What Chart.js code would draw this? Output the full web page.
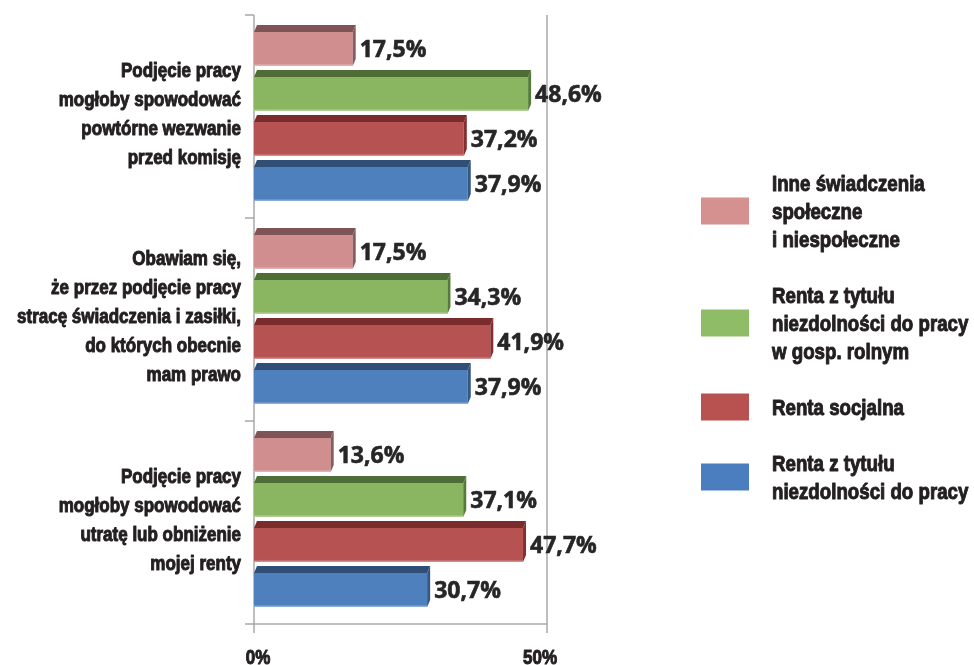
<!DOCTYPE html>
<html lang="pl">
<head>
    <meta charset="UTF-8">
    <title>Wykres</title>
    <style>
        html, body { margin: 0; padding: 0; background: #fff; }
        #chart-container { position: relative; width: 974px; height: 665px; }
    </style>
</head>
<body>
    <div id="chart-container">
        <canvas id="myChart"></canvas>
    </div>

<script src="https://cdn.jsdelivr.net/npm/chart.js"></script>
<script>
    // dane
    const categories = [
        ['Podjęcie pracy', 'mogłoby spowodować', 'powtórne wezwanie', 'przed komisję'],
        ['Obawiam się,', 'że przez podjęcie pracy', 'stracę świadczenia i zasiłki,', 'do których obecnie', 'mam prawo'],
        ['Podjęcie pracy', 'mogłoby spowodować', 'utratę lub obniżenie', 'mojej renty']
    ];
    const seriesNames = [
        ['Inne świadczenia', 'społeczne', 'i niespołeczne'],
        ['Renta z tytułu', 'niezdolności do pracy', 'w gosp. rolnym'],
        ['Renta socjalna'],
        ['Renta z tytułu', 'niezdolności do pracy']
    ];
    const inneValues = [17.5, 17.5, 13.6];
    const rolnyValues = [48.6, 34.3, 37.1];
    const socjalnaValues = [37.2, 41.9, 47.7];
    const niezdolnoscValues = [37.9, 37.9, 30.7];
    const xTicks = [0, 50];

    const frontColors = ['#D08E8E', '#8AB561', '#B65252', '#4E80BD'];
    const topColors = ['#7F5457', '#4F6D36', '#7A2C2D', '#2F4F76'];
    const sideColors = ['#8A5A5C', '#567A3B', '#832F30', '#34577F'];
    const legendColors = ['#D59090', '#8FBC66', '#B85250', '#4A7EBF'];

    const labelFont = '"Liberation Sans", Arial, sans-serif';
    const valueFont = '"Open Sans", sans-serif';
    const textColor = '#231F20';
    const NARROW = 0.85;   // brak fontu "condensed" - ściskamy tekst w poziomie
    const DX = 3, DY = 7;

    function narrowText(c, text, x, y, align) {
        c.save();
        c.translate(x, y);
        c.scale(NARROW, 1);
        c.textAlign = align;
        c.lineWidth = 1;
        c.lineJoin = 'round';
        c.strokeStyle = c.fillStyle;
        c.strokeText(text, 0, 0);
        c.fillText(text, 0, 0);
        c.restore();
    }

    const axesPlugin = {
        id: 'axes3d',
        beforeDatasetsDraw(chart) {
            const c = chart.ctx, xs = chart.scales.x, ys = chart.scales.y;
            const a = chart.chartArea;
            const x0 = xs.getPixelForValue(0);
            const xBack = xs.getPixelForValue(50) + 11;
            c.save();
            c.strokeStyle = '#A9A9A9';
            c.lineWidth = 1.5;
            c.beginPath();
            c.moveTo(x0, a.top); c.lineTo(x0, a.bottom + 9);
            c.moveTo(xBack, a.top); c.lineTo(xBack, a.bottom + 9);
            c.moveTo(x0 - 9, a.bottom); c.lineTo(xBack, a.bottom);
            c.moveTo(x0 - 9, a.top); c.lineTo(x0, a.top);
            for (let i = 1; i < categories.length; i++) {
                const y = (ys.getPixelForValue(i - 1) + ys.getPixelForValue(i)) / 2;
                c.moveTo(x0 - 9, y); c.lineTo(x0, y);
            }
            c.stroke();

            // etykiety kategorii
            c.fillStyle = textColor;
            c.font = 'bold 20px ' + labelFont;
            c.textBaseline = 'middle';
            const lineH = 29;
            categories.forEach((lines, i) => {
                const yc = ys.getPixelForValue(i) - 2;
                const y0 = yc - (lines.length - 1) * lineH / 2;
                lines.forEach((t, k) => narrowText(c, t, x0 - 13, y0 + k * lineH, 'right'));
            });

            // etykiety osi X
            c.textBaseline = 'alphabetic';
            xTicks.forEach(v => narrowText(c, v + '%', xs.getPixelForValue(v) + 4, a.bottom + 40, 'center'));
            c.restore();
        },
        afterDatasetsDraw(chart) {
            const c = chart.ctx;
            c.save();
            chart.data.datasets.forEach((ds, di) => {
                const meta = chart.getDatasetMeta(di);
                meta.data.forEach((bar, i) => {
                    const top = bar.y - bar.height / 2;
                    const bot = bar.y + bar.height / 2;
                    const x1 = bar.x, x0 = bar.base;
                    // górna ściana
                    c.fillStyle = topColors[di];
                    c.beginPath();
                    c.moveTo(x0, top); c.lineTo(x1, top);
                    c.lineTo(x1 + DX, top - DY); c.lineTo(x0 + DX, top - DY);
                    c.closePath(); c.fill();
                    // boczna ściana
                    c.fillStyle = sideColors[di];
                    c.beginPath();
                    c.moveTo(x1, top); c.lineTo(x1 + DX, top - DY);
                    c.lineTo(x1 + DX, bot - DY); c.lineTo(x1, bot);
                    c.closePath(); c.fill();
                    // jasna krawędź
                    c.fillStyle = 'rgba(255,255,255,0.35)';
                    c.fillRect(x0, bot - 1.5, x1 - x0, 1.5);
                    // etykieta wartości
                    const txt = ds.data[i].toFixed(1).replace('.', ',') + '%';
                    c.fillStyle = '#262626';
                    c.strokeStyle = '#262626';
                    c.lineWidth = 0.6;
                    c.font = 'bold 23px ' + valueFont;
                    c.textAlign = 'left';
                    c.textBaseline = 'middle';
                    c.strokeText(txt, x1 + DX + 4, bar.y + 1);
                    c.fillText(txt, x1 + DX + 4, bar.y + 1);
                });
            });
            c.restore();
        },
        afterDraw(chart) {
            // legenda
            const c = chart.ctx;
            const lineH = 28;
            let y = 185;
            c.save();
            c.font = 'bold 22px ' + labelFont;
            c.textBaseline = 'middle';
            chart.data.datasets.forEach((ds, di) => {
                const lines = seriesNames[di];
                const mid = y + (lines.length - 1) * lineH / 2;
                c.fillStyle = legendColors[di];
                c.fillRect(701, mid - 2 - 13.5, 48, 27);
                c.fillStyle = textColor;
                lines.forEach((t, k) => narrowText(c, t, 772, y + k * lineH, 'left'));
                y += (lines.length + 1) * lineH;
            });
            c.restore();
        }
    };

    const ctx = document.getElementById('myChart').getContext('2d');
    const values = [inneValues, rolnyValues, socjalnaValues, niezdolnoscValues];

    const chart = new Chart(ctx, {
        type: 'bar',
        data: {
            labels: categories,
            datasets: values.map((v, i) => ({
                label: seriesNames[i].join(' '),
                data: v,
                backgroundColor: frontColors[i],
                borderWidth: 0,
                categoryPercentage: 0.887,
                barPercentage: 0.755
            }))
        },
        options: {
            indexAxis: 'y',
            responsive: true,
            maintainAspectRatio: false,
            animation: false,
            layout: { padding: { left: 0, right: 438, top: 15, bottom: 0 } },
            plugins: {
                legend: { display: false },
                tooltip: { enabled: false }
            },
            scales: {
                x: {
                    min: 0,
                    max: 50,
                    afterBuildTicks: (s) => { s.ticks = xTicks.map(v => ({ value: v })); },
                    grid: { display: false, drawTicks: false },
                    border: { display: false },
                    ticks: { display: false },
                    afterFit: (s) => { s.height = 41; }
                },
                y: {
                    grid: { display: false, drawTicks: false },
                    border: { display: false },
                    ticks: { display: false },
                    afterFit: (s) => { s.width = 254; }
                }
            }
        },
        plugins: [axesPlugin]
    });
</script>
</body>
</html>
